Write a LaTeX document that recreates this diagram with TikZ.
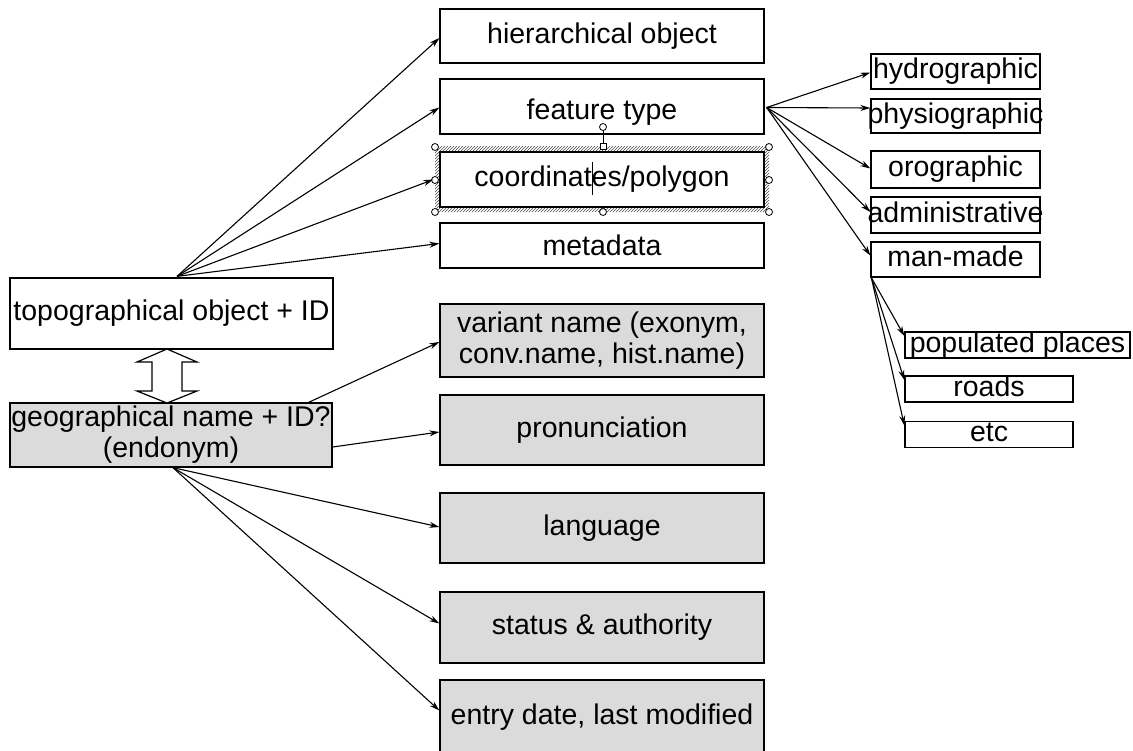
\documentclass[tikz,border=0pt]{standalone}
\usepackage{fontspec}
\setmainfont{Liberation Sans}
\usetikzlibrary{calc,arrows.meta,patterns}
\newcommand\zerowd[1]{\makebox[0pt]{#1}}
\begin{document}
\begin{tikzpicture}[x=1pt,y=-1pt,
  box/.style={draw=black,line width=1.3pt,inner sep=0pt,fill=white,
    font=\fontsize{28.5}{32}\selectfont,text height=20pt,text depth=6pt},
  gbox/.style={box,fill=gray!28},
  mbox/.style={draw=black,line width=1.3pt,inner sep=0pt,fill=gray!28,
    font=\fontsize{28.5}{31}\selectfont,align=center},
  conn/.style={line width=1.1pt,-{Stealth[length=10pt,width=6pt]}},
  handle/.style={draw=black,fill=white,line width=0.8pt},
  dblarrow/.style={draw=black,fill=white,line width=1.2pt}]
\useasboundingbox (0,0) rectangle (1133,750);
\clip (0,0) rectangle (1133,750);
\fill[white] (0,0) rectangle (1133,750);

% selection frame (hatched) of coordinates/polygon
\fill[pattern=north east lines,pattern color=black!70,even odd rule] (435,146) rectangle (769,212) (440,152) rectangle (764,207);

% middle column
\node[box,minimum width=324,minimum height=54] (hier) at (602,36) {hierarchical object};
\node[box,minimum width=324,minimum height=55,text height=26pt,text depth=0pt] (feat) at (602,106.5) {feature type};
\node[box,minimum width=324,minimum height=55] (coord) at (602,179.5) {coordinates/polygon};
\node[box,minimum width=324,minimum height=45,text height=22pt,text depth=3pt] (meta) at (602,245.5) {metadata};
\node[mbox,minimum width=324,minimum height=73] (var) at (602,340.5) {variant name (exonym,\\conv.name, hist.name)};
\node[gbox,minimum width=324,minimum height=70] (pron) at (602,430) {pronunciation};
\node[gbox,minimum width=324,minimum height=70] (lang) at (602,528) {language};
\node[gbox,minimum width=324,minimum height=71] (stat) at (602,627.5) {status \& authority};
\node[gbox,minimum width=324,minimum height=75] (entry) at (602,717.5) {entry date, last modified};
\draw[line width=1.3pt] (feat.south west) -- (feat.south east);

% left column
\node[box,minimum width=323,minimum height=71] (topo) at (171.5,313.5) {topographical object + ID};
\node[mbox,minimum width=322,minimum height=64] (geo) at (171,435) {geographical name + ID?\\(endonym)};

% right column
\node[box,minimum width=169,minimum height=35] (hydro) at (955.5,71.5) {\zerowd{hydrographic}};
\node[box,minimum width=169,minimum height=34] (physio) at (955.5,116) {\zerowd{physiographic}};
\node[box,minimum width=169,minimum height=37] (oro) at (955.5,169.5) {orographic};
\node[box,minimum width=169,minimum height=36] (admin) at (955.5,215) {\zerowd{administrative}};
\node[box,minimum width=169,minimum height=35] (mm) at (955.5,259.5) {man-made};
\node[box,minimum width=225,minimum height=26] (pop) at (1017.5,345) {\zerowd{populated places}};
\node[box,minimum width=168,minimum height=26] (roads) at (989,389) {roads};
\node[box,minimum width=168,minimum height=25] (etc) at (989,434.5) {etc};

% selection handles on coordinates/polygon
\coordinate (rot) at (603,127);
\draw[line width=1pt] (rot) -- (603,146);
\draw[handle] (600,143) rectangle (606,149);
\draw[handle] (rot) circle (3.5);
\foreach \p in {(435,147),(769,147),(435,212),(769,212),(435,180),(769,180),(603,212)}
  \draw[handle] \p circle (3.5);
\draw[line width=1pt] (592,162) -- (592,195);

% double hollow arrow
\draw[dblarrow] (167,349) -- (197,362) -- (182,362) -- (182,391) -- (197,391) -- (167,403)
  -- (137,391) -- (152,391) -- (152,362) -- (137,362) -- cycle;

% fan from topographical object
\coordinate (topoT) at ($(topo.north)+(5.5,-1)$);
\draw[conn] (topoT) -- ($(hier.west)+(0,2)$);
\draw[conn] (topoT) -- ($(feat.west)+(0,1)$);
\draw[conn] (topoT) -- ($(coord.west)+(-6,0)$);
\draw[conn] (topoT) -- ($(meta.west)+(0,-2)$);

% fan from feature type
\coordinate (featE) at ($(feat.east)+(2,1)$);
\draw[conn] (featE) -- ($(hydro.west)+(0,1)$);
\draw[conn] (featE) -- ($(physio.west)+(0,-8)$);
\draw[conn] (featE) -- ($(oro.west)+(0,-1)$);
\draw[conn] (featE) -- ($(admin.west)+(0,-3)$);
\draw[conn] (featE) -- ($(mm.west)+(0,-4)$);

% fan from man-made
\coordinate (mmS) at ($(mm.south west)+(1,0)$);
\draw[conn] (mmS) -- ($(pop.west)+(0,-9)$);
\draw[conn] (mmS) -- ($(roads.west)+(0,-9)$);
\draw[conn] (mmS) -- ($(etc.west)+(0,-9)$);

% fan from geographical name
\draw[conn] ($(geo.north east)+(-24,0)$) -- ($(var.west)+(0,1.5)$);
\draw[conn] ($(geo.east)+(0,12)$) -- ($(pron.west)+(0,2)$);
\coordinate (geoS) at ($(geo.south)+(2,0)$);
\draw[conn] (geoS) -- ($(lang.west)+(0,-1)$);
\draw[conn] (geoS) -- ($(stat.west)+(0,-4)$);
\draw[conn] (geoS) -- ($(entry.west)+(0,-7)$);
\end{tikzpicture}
\end{document}
